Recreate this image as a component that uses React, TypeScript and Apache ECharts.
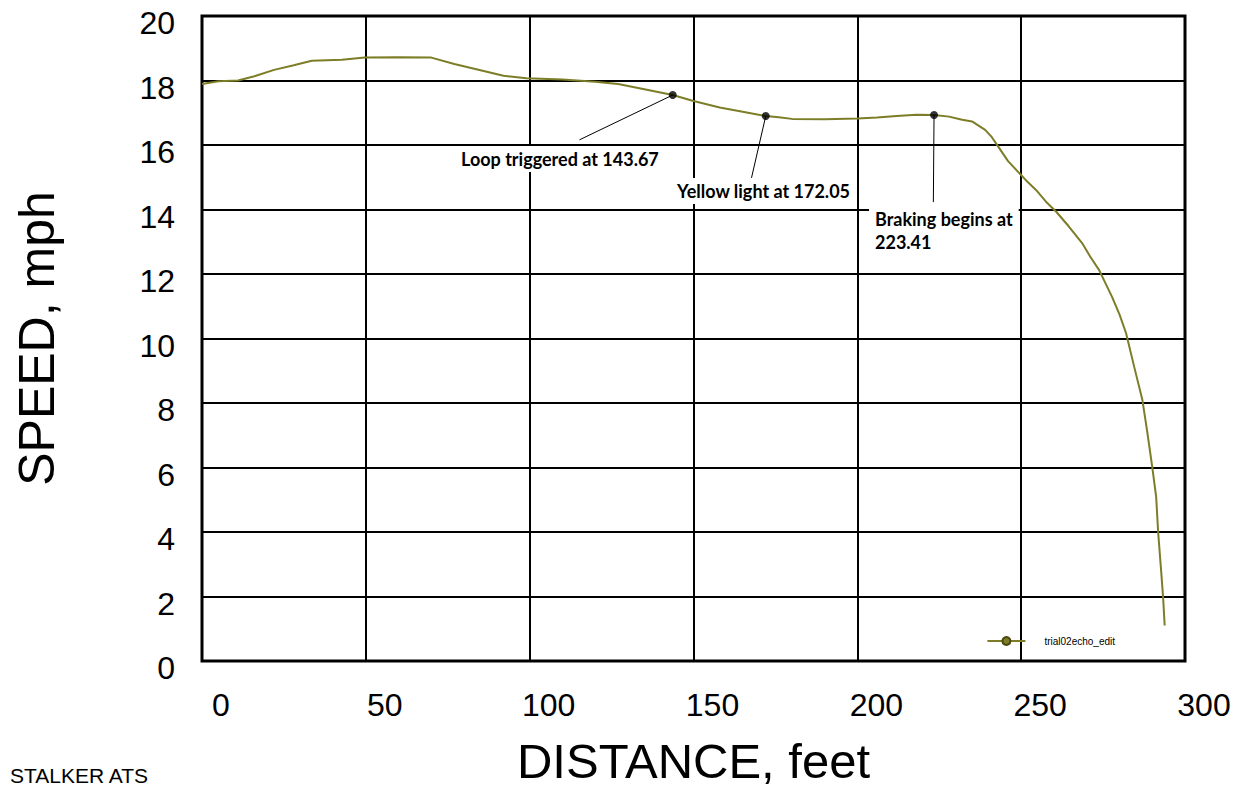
import React, { useEffect, useRef } from "react";
import * as echarts from "echarts";

const distance = [0, 5, 11, 16, 22, 28, 33.5, 42.7, 49.7, 60, 70, 77, 85, 92, 99, 110, 120, 127, 135, 143.67, 149.7, 158, 165, 172.05, 176, 180, 190, 200, 206, 212, 218, 223.41, 228, 232, 235, 237, 239, 241, 243, 246, 249.4, 252, 254.6, 257.5, 260.7, 264.5, 268.6, 271, 273.8, 277.7, 280, 282, 284.5, 287, 288.4, 290, 291.2, 291.8, 292.7, 293.3, 293.8];
const speed = [17.89, 17.98, 18.0, 18.13, 18.33, 18.47, 18.61, 18.64, 18.71, 18.72, 18.71, 18.51, 18.32, 18.15, 18.07, 18.03, 17.96, 17.89, 17.73, 17.55, 17.37, 17.16, 17.03, 16.9, 16.86, 16.81, 16.8, 16.82, 16.85, 16.9, 16.94, 16.93, 16.88, 16.78, 16.73, 16.6, 16.47, 16.25, 15.95, 15.5, 15.13, 14.85, 14.6, 14.25, 13.93, 13.48, 12.96, 12.55, 12.12, 11.3, 10.75, 10.17, 9.12, 8.09, 7.16, 6.02, 5.09, 4.0, 2.82, 2.0, 1.1];

const eventNames = ["Loop triggered at 143.67", "Yellow light at 172.05", "Braking begins at\n223.41"];
const eventDistance = [143.67, 172.05, 223.41];
const eventSpeed = [17.55, 16.9, 16.93];
const leaderEndDistance = [115.2, 167.7, 223.2];
const leaderEndSpeed = [16.16, 14.98, 14.23];

const seriesName = "trial02echo_edit";
const xTicks = [0, 50, 100, 150, 200, 250, 300];
const yTicks = [0, 2, 4, 6, 8, 10, 12, 14, 16, 18, 20];

export default function App() {
  const ref = useRef<HTMLDivElement>(null);
  useEffect(() => {
    if (!ref.current) return;
    const chart = echarts.init(ref.current, null, { renderer: "svg" });
    const olive = "#7d7d27";
    const labelFont = "Liberation Sans, Arial, sans-serif";
    const noteFont = "bold 18px Lato, sans-serif";
    chart.setOption({
      animation: false,
      backgroundColor: "#ffffff",
      grid: {
        left: 202,
        right: 50,
        top: 16,
        bottom: 131,
        show: true,
        borderColor: "#000",
        borderWidth: 3,
        backgroundColor: "#fff",
        containLabel: false,
        outerBoundsMode: "none",
      },
      legend: {
        data: [seriesName],
        right: 115,
        bottom: 141,
        itemWidth: 38,
        itemHeight: 10,
        textStyle: { fontSize: 10, color: "#000", fontFamily: labelFont, padding: [0, 0, 0, 14] },
      },
      xAxis: {
        type: "value",
        min: xTicks[0],
        max: xTicks[xTicks.length - 1],
        interval: 50,
        name: "DISTANCE, feet",
        nameLocation: "middle",
        nameGap: 80,
        nameTextStyle: { fontSize: 49, lineHeight: 40, color: "#000", fontFamily: labelFont },
        axisLine: { show: false },
        axisTick: { show: false },
        axisLabel: { fontSize: 32, color: "#000", fontFamily: labelFont, margin: 28, padding: [0, 0, 0, 38] },
        splitLine: { show: true, lineStyle: { color: "#000", width: 2 } },
      },
      yAxis: {
        type: "value",
        min: yTicks[0],
        max: yTicks[yTicks.length - 1],
        interval: 2,
        name: "SPEED, mph",
        nameLocation: "middle",
        nameRotate: 90,
        nameGap: 140,
        nameTextStyle: { fontSize: 50, color: "#000", fontFamily: labelFont },
        axisLine: { show: false },
        axisTick: { show: false },
        axisLabel: {
          margin: 27,
          formatter: "{a|{value}}",
          rich: { a: { fontSize: 32, color: "#000", fontFamily: labelFont, padding: [14, 0, 0, 0] } },
        },
        splitLine: { show: true, lineStyle: { color: "#000", width: 2 } },
      },
      series: [
        {
          name: seriesName,
          type: "line",
          data: distance.map((d, i) => [d, speed[i]]),
          showSymbol: false,
          symbol: "circle",
          symbolSize: 8,
          lineStyle: { color: olive, width: 2 },
          itemStyle: { color: olive, borderColor: "#4a4a10", borderWidth: 1 },
          z: 3,
        },
        {
          name: "events",
          type: "scatter",
          data: eventDistance.map((d, i) => [d, eventSpeed[i]]),
          symbolSize: 8,
          itemStyle: { color: "#000" },
          z: 5,
          markLine: {
            silent: true,
            symbol: ["none", "none"],
            label: { show: false },
            lineStyle: { color: "#000", width: 1, type: "solid" },
            data: eventDistance.map((d, i) => [
              { coord: [d, eventSpeed[i]] },
              { coord: [leaderEndDistance[i], leaderEndSpeed[i]] },
            ]),
          },
        },
      ],
      graphic: [
        {
          type: "text",
          left: 455,
          top: 146,
          style: { text: eventNames[0], font: noteFont, fill: "#000", backgroundColor: "#fff", padding: [4, 6, 4, 6] },
          z: 10,
        },
        {
          type: "text",
          left: 671,
          top: 178,
          style: { text: eventNames[1], font: noteFont, fill: "#000", backgroundColor: "#fff", padding: [4, 6, 4, 6] },
          z: 10,
        },
        {
          type: "text",
          left: 869,
          top: 203,
          style: { text: eventNames[2], font: noteFont, fill: "#000", lineHeight: 23, backgroundColor: "#fff", padding: [4, 6, 4, 6] },
          z: 10,
        },
        {
          type: "text",
          left: 10,
          top: 765,
          style: { text: "STALKER ATS", font: "21px Liberation Sans, Arial, sans-serif", fill: "#000" },
        },
      ],
    });
    return () => chart.dispose();
  }, []);
  return <div ref={ref} style={{ position: "fixed", left: 0, top: 0, width: 1235, height: 792 }} />;
}
